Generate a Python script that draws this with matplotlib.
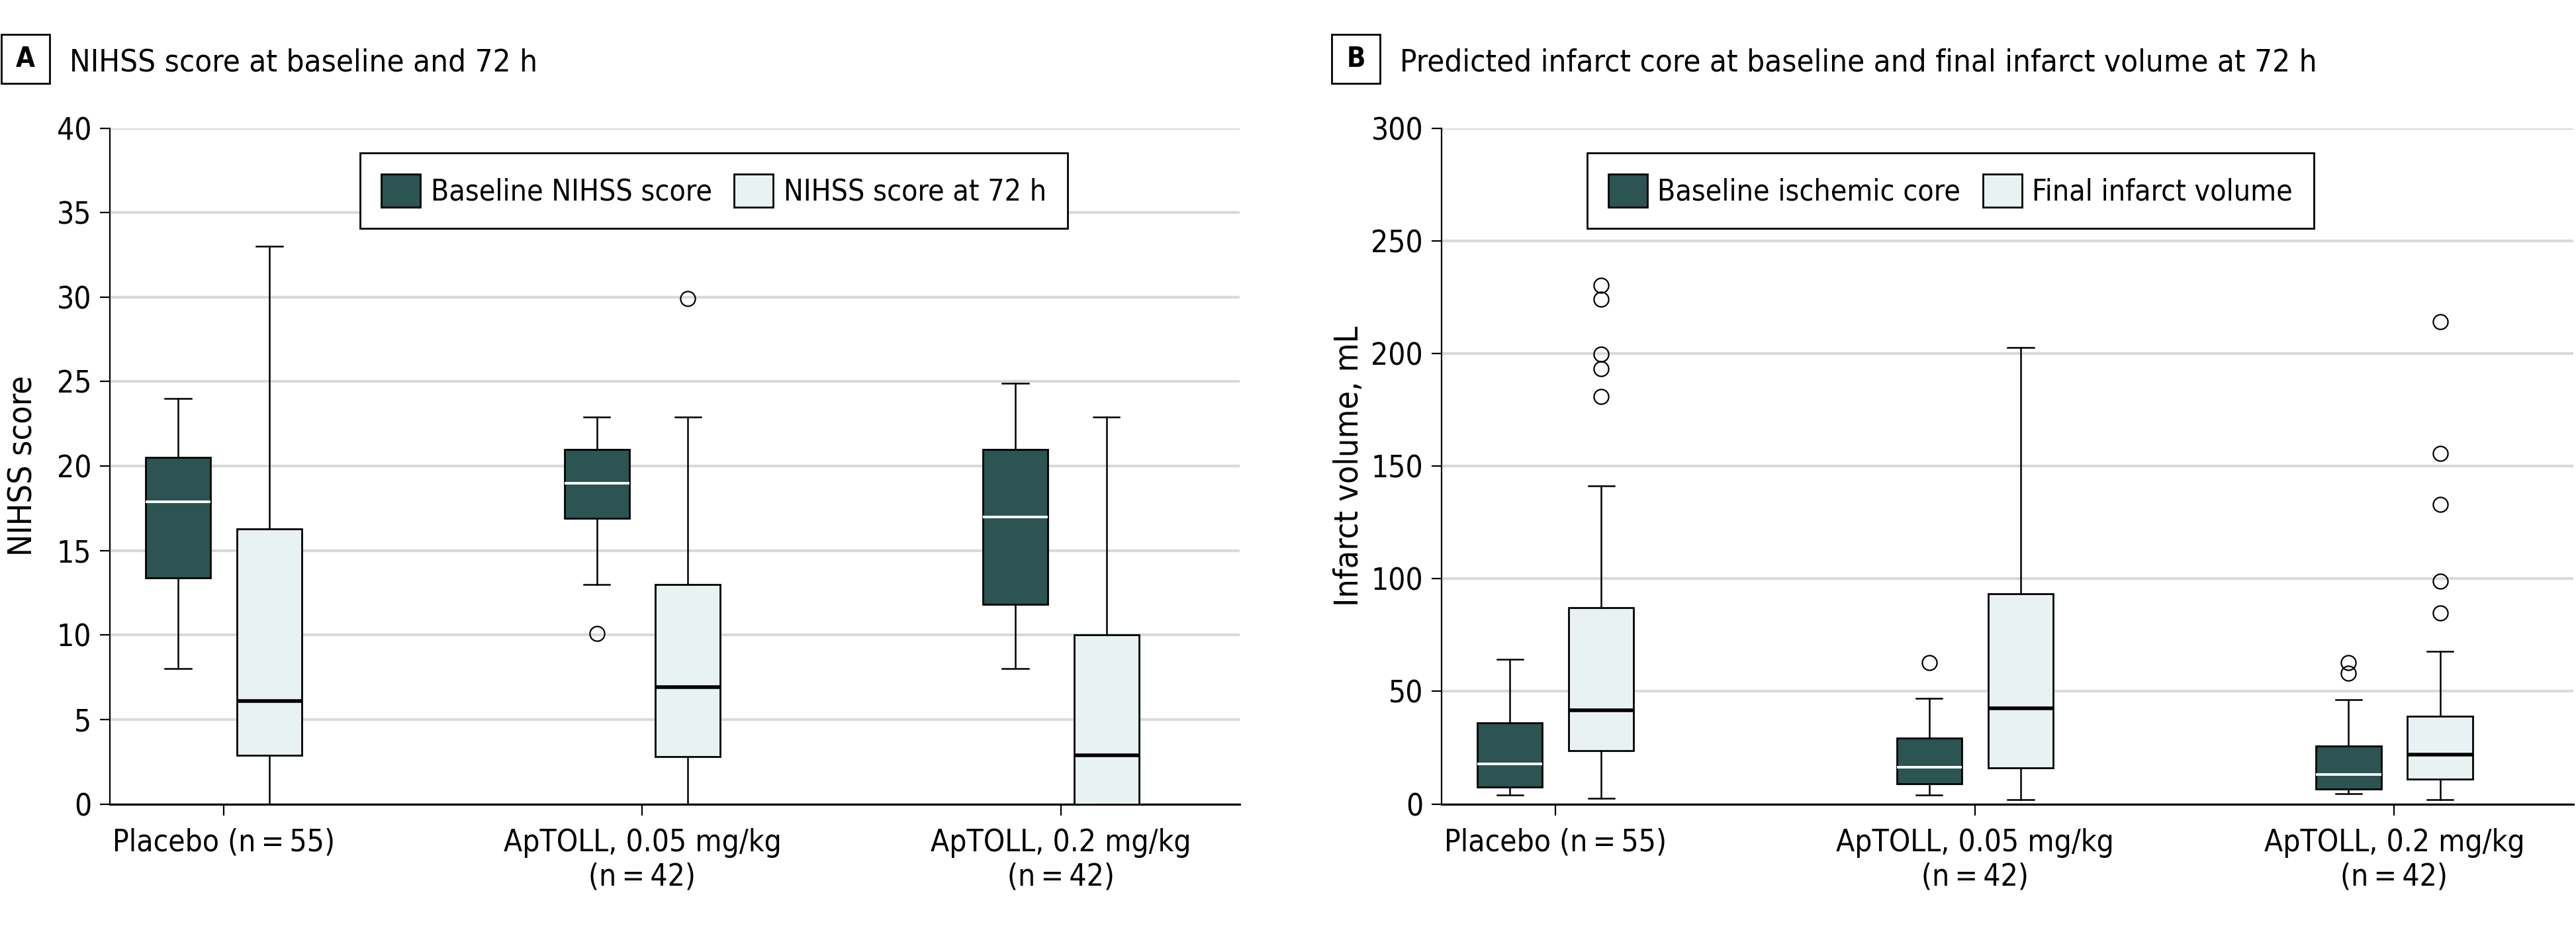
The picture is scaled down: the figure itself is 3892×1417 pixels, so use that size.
import matplotlib
matplotlib.use('Agg')
import matplotlib.pyplot as plt
from matplotlib.patches import Patch, Rectangle

plt.rcParams['font.family'] = 'DejaVu Sans'
plt.rcParams['font.stretch'] = 'condensed'

# Groups
groups = ['Placebo (n\u2009=\u200955)', 'ApTOLL, 0.05 mg/kg\n(n\u2009=\u200942)',
          'ApTOLL, 0.2 mg/kg\n(n\u2009=\u200942)']

# Panel A: NIHSS score, baseline
nihss_base_lo = [8.0, 13.0, 8.0]
nihss_base_q1 = [13.4, 16.9, 11.8]
nihss_base_med = [17.9, 19.0, 17.0]
nihss_base_q3 = [20.5, 21.0, 21.0]
nihss_base_hi = [24.0, 22.9, 24.9]
nihss_base_out = [[], [10.1], []]

# Panel A: NIHSS score at 72 h
nihss_72_lo = [0.0, 0.0, 0.0]
nihss_72_q1 = [2.9, 2.8, 0.0]
nihss_72_med = [6.1, 6.9, 2.9]
nihss_72_q3 = [16.3, 13.0, 10.0]
nihss_72_hi = [33.0, 22.9, 22.9]
nihss_72_out = [[], [29.9], []]

# Panel B: baseline ischemic core (mL)
core_lo = [4.1, 4.1, 4.5]
core_q1 = [7.6, 9.1, 6.6]
core_med = [17.9, 16.3, 13.0]
core_q3 = [35.9, 29.3, 25.8]
core_hi = [64.3, 47.0, 46.4]
core_out = [[], [62.7], [58.1, 62.7]]

# Panel B: final infarct volume (mL)
final_lo = [2.5, 1.9, 1.9]
final_q1 = [23.7, 16.1, 11.1]
final_med = [41.6, 42.5, 22.0]
final_q3 = [87.0, 93.4, 39.0]
final_hi = [141.2, 202.7, 67.8]
final_out = [[180.8, 193.2, 199.8, 224.1, 230.3], [], [84.7, 98.8, 133.0, 155.7, 214.2]]

dark = '#2B5452'
light = '#E9F2F2'
grid_color = '#DADADA'

W, H = 3892, 1417


def make_stats(lo, q1, med, q3, hi, out):
    return [dict(whislo=a, q1=b, med=c, q3=d, whishi=e, fliers=f)
            for a, b, c, d, e, f in zip(lo, q1, med, q3, hi, out)]


def draw_boxes(ax, stats, positions, face, medcolor, medlw):
    ax.bxp(stats, positions=positions, widths=0.155, capwidths=0.062,
           patch_artist=True, showfliers=True,
           boxprops=dict(facecolor=face, edgecolor='black', linewidth=1.0),
           medianprops=dict(color=medcolor, linewidth=medlw, solid_capstyle='butt'),
           whiskerprops=dict(color='black', linewidth=0.9),
           capprops=dict(color='black', linewidth=0.9),
           flierprops=dict(marker='o', markersize=8, markerfacecolor='none',
                           markeredgecolor='black', markeredgewidth=0.8),
           zorder=3)


def style_axes(ax, ymax, ystep, ylabel, label_x):
    x = list(range(len(groups)))
    ax.set_xlim(-0.272, 2.427)
    ax.set_ylim(0, ymax)
    ax.set_yticks(range(0, ymax + 1, ystep))
    ax.set_xticks(x)
    ax.set_xticklabels(groups, ha='center', multialignment='center')
    ax.yaxis.grid(True, color=grid_color, linewidth=1.5)
    ax.set_axisbelow(True)
    for s in ['top', 'right']:
        ax.spines[s].set_visible(False)
    ax.spines['left'].set_linewidth(0.8)
    ax.spines['bottom'].set_linewidth(1.1)
    ax.tick_params(axis='y', length=5.5, width=0.8, pad=4.5, labelsize=16.5)
    ax.tick_params(axis='x', length=6, width=0.8, pad=7, labelsize=16.5)
    ax.set_ylabel(ylabel, fontsize=18)
    ax.yaxis.set_label_coords(label_x, 0.5)


def panel_title(fig, letter, text, box_x0, text_x):
    fig.patches.append(Rectangle((box_x0 / W, 1 - 126 / H), 73 / W, 74 / H,
                                 transform=fig.transFigure, fill=False,
                                 edgecolor='black', linewidth=1.0))
    fig.text((box_x0 + 36.5) / W, 1 - 89 / H, letter, fontsize=15, weight='bold',
             ha='center', va='center')
    fig.text(text_x / W, 1 - 108 / H, text, fontsize=17, va='baseline')


def add_legend(ax, labels, x0):
    handles = [Patch(facecolor=dark, edgecolor='black', linewidth=1.0, label=labels[0]),
               Patch(facecolor=light, edgecolor='black', linewidth=1.0, label=labels[1])]
    leg = ax.legend(handles=handles, loc='upper left', bbox_to_anchor=(x0, 0.963),
                    ncol=2, fontsize=16, frameon=True, fancybox=False,
                    edgecolor='black', framealpha=1, borderaxespad=0,
                    handlelength=1.33, handleheight=1.33, handletextpad=0.35,
                    columnspacing=0.75, borderpad=0.72)
    leg.get_frame().set_linewidth(1.0)


fig = plt.figure(figsize=(W / 200, H / 200), dpi=200)
axA = fig.add_axes([166 / W, 1 - 1214.6 / H, (1873 - 166) / W, (1214.6 - 193.5) / H])
axB = fig.add_axes([2178 / W, 1 - 1214.6 / H, (3888 - 2178) / W, (1214.6 - 193.5) / H])

pos = list(range(len(groups)))
left = [p - 0.109 for p in pos]
right = [p + 0.109 for p in pos]

# Panel A
draw_boxes(axA, make_stats(nihss_base_lo, nihss_base_q1, nihss_base_med, nihss_base_q3,
                           nihss_base_hi, nihss_base_out), left, dark, 'white', 1.4)
draw_boxes(axA, make_stats(nihss_72_lo, nihss_72_q1, nihss_72_med, nihss_72_q3,
                           nihss_72_hi, nihss_72_out), right, light, 'black', 2.0)
style_axes(axA, 40, 5, 'NIHSS score', -0.063)
add_legend(axA, ['Baseline NIHSS score', 'NIHSS score at 72 h'], 0.2214)

# Panel B
draw_boxes(axB, make_stats(core_lo, core_q1, core_med, core_q3, core_hi, core_out),
           left, dark, 'white', 1.4)
draw_boxes(axB, make_stats(final_lo, final_q1, final_med, final_q3, final_hi, final_out),
           right, light, 'black', 2.0)
style_axes(axB, 300, 50, 'Infarct volume, mL', -0.068)
add_legend(axB, ['Baseline ischemic core', 'Final infarct volume'], 0.1285)

panel_title(fig, 'A', 'NIHSS score at baseline and 72 h', 2, 105)
panel_title(fig, 'B', 'Predicted infarct core at baseline and final infarct volume at 72 h', 2012, 2115)

fig.savefig('out.png', dpi=200)
plt.close(fig)
